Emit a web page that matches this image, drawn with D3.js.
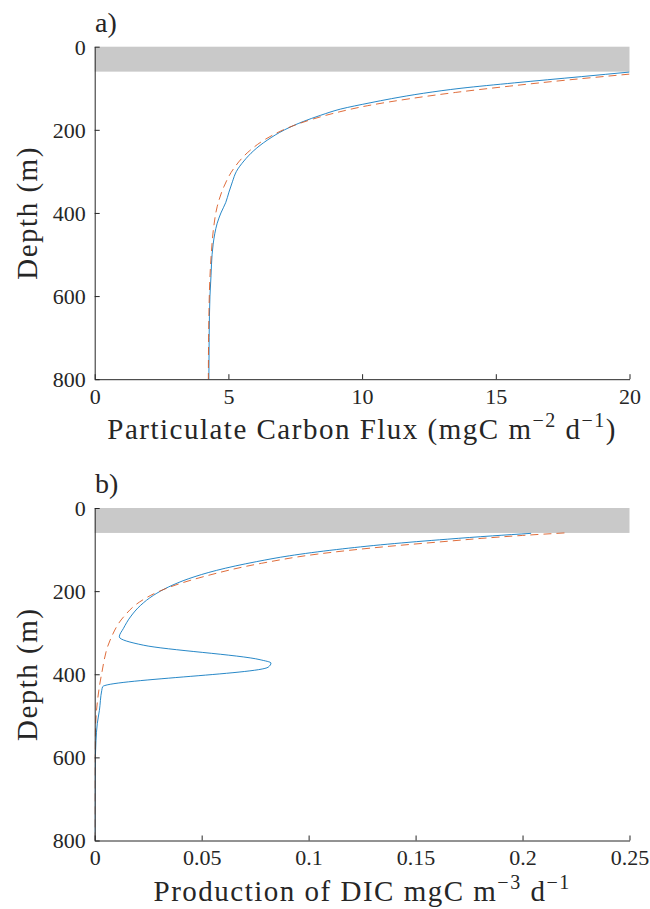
<!DOCTYPE html>
<html>
<head>
<meta charset="utf-8">
<script src="https://cdn.jsdelivr.net/npm/d3@7"></script>
<style>
  html, body { margin: 0; padding: 0; background: #ffffff; }
  svg { display: block; }
</style>
</head>
<body>
<script>
// Axis ticks
const depthTicks = [0, 200, 400, 600, 800];
const fluxTicks = [0, 5, 10, 15, 20];
const dicTicks = [0, 0.05, 0.1, 0.15, 0.2, 0.25];
const dicTickLabels = ["0", "0.05", "0.1", "0.15", "0.2", "0.25"];

// Shaded surface layer (m)
const surfaceLayer = [0, 60];

// a) particulate carbon flux, model (solid)
const fluxModelDepth = [61, 72, 87, 100, 112, 125, 135, 150, 165, 180, 200, 225, 250, 275, 300, 325, 350, 375, 400, 425, 450, 475, 500, 550, 600, 700, 800];
const fluxModel = [20.0, 18.2, 15.7, 13.7, 12.3, 11.1, 10.3, 9.2, 8.45, 7.8, 7.1, 6.45, 5.95, 5.58, 5.3, 5.15, 5.02, 4.9, 4.72, 4.58, 4.49, 4.43, 4.39, 4.35, 4.31, 4.28, 4.27];

// a) particulate carbon flux, fitted profile (dashed)
const fluxFitDepth = [66, 80, 95, 110, 125, 142, 160, 186, 222, 250, 293, 337, 385, 434, 498, 554, 650, 800];
const fluxFit = [20.0, 17.7, 15.5, 13.5, 11.8, 10.2, 8.95, 7.6, 6.4, 5.8, 5.2, 4.83, 4.58, 4.45, 4.36, 4.31, 4.27, 4.25];

// b) production of DIC, model (solid)
const dicModelDepth = [61, 67, 75, 87, 100, 115, 129, 150, 170, 190, 210, 234, 262, 290, 310, 330, 365, 373, 383, 430, 439, 487, 519, 560, 600, 700, 800];
const dicModel = [0.204, 0.186, 0.165, 0.137, 0.113, 0.091, 0.0757, 0.057, 0.044, 0.0345, 0.0275, 0.0215, 0.0167, 0.0134, 0.0115, 0.0227, 0.0773, 0.0824, 0.0811, 0.0037, 0.0033, 0.0022, 0.0012, 0.0006, 0.0003, 0.0001, 0.0];

// b) production of DIC, fitted profile (dashed)
const dicFitDepth = [60, 66, 73, 80, 92, 111, 133, 165, 185, 202, 226, 262, 318, 400, 479, 559, 650, 800];
const dicFit = [0.2196, 0.200, 0.181, 0.165, 0.138, 0.104, 0.078, 0.051, 0.038, 0.0295, 0.021, 0.0135, 0.0072, 0.0032, 0.0010, 0.0002, 0.00002, 0];

const W = 650, H = 909;
const FONT = "Liberation Serif";
const svg = d3.select("body").append("svg").attr("width", W).attr("height", H);

const AXIS = "#262626";
const BLUE = "#0072BD";
const ORANGE = "#D95319";

function panel(opts) {
  const x = d3.scaleLinear().domain(opts.xDomain).range([94.7, 629.5]);
  const y = d3.scaleLinear().domain([0, 800]).range([opts.top, opts.top + 332.5]);
  const g = svg.append("g");

  const clipId = "clip-" + opts.id;
  svg.append("defs").append("clipPath").attr("id", clipId)
    .append("rect").attr("x", x.range()[0]).attr("y", y.range()[0])
    .attr("width", x.range()[1] - x.range()[0]).attr("height", y.range()[1] - y.range()[0]);

  // surface layer shading
  g.append("rect")
    .attr("x", x(opts.xDomain[0])).attr("y", y(surfaceLayer[0]))
    .attr("width", x(opts.xDomain[1]) - x(opts.xDomain[0]))
    .attr("height", y(surfaceLayer[1]) - y(surfaceLayer[0]))
    .attr("fill", "#c9c9c9");

  const plot = g.append("g").attr("clip-path", `url(#${clipId})`);
  const line = d3.line().x(d => x(d[0])).y(d => y(d[1])).curve(d3.curveMonotoneY);

  plot.append("path")
    .datum(d3.zip(opts.model, opts.modelDepth))
    .attr("d", line).attr("fill", "none")
    .attr("stroke", BLUE).attr("stroke-width", 0.85);

  plot.append("path")
    .datum(d3.zip(opts.fit, opts.fitDepth))
    .attr("d", line).attr("fill", "none")
    .attr("stroke", ORANGE).attr("stroke-width", 0.85)
    .attr("stroke-dasharray", "8,5");

  // axes: inward ticks, no box
  const yAxis = d3.axisLeft(y).tickValues(depthTicks).tickSizeInner(-5).tickSizeOuter(0).tickPadding(9)
    .tickFormat(d3.format("d"));
  const ya = g.append("g").attr("transform", `translate(${x.range()[0]},0)`).call(yAxis);

  const xAxis = d3.axisBottom(x).tickValues(opts.xTicks).tickSizeInner(-5).tickSizeOuter(0).tickPadding(9)
    .tickFormat((d, i) => opts.xTickLabels[i]);
  const xa = g.append("g").attr("transform", `translate(0,${y.range()[1]})`).call(xAxis);

  [ya, xa].forEach(a => {
    a.attr("font-family", FONT).attr("font-size", 22);
    a.select(".domain").attr("stroke", AXIS).attr("stroke-width", 1);
    a.selectAll(".tick line").attr("stroke", AXIS).attr("stroke-width", 1);
    a.selectAll(".tick text").attr("fill", AXIS);
  });
  ya.selectAll(".tick text").attr("dy", "0.34em");
  xa.selectAll(".tick text").attr("dy", "0.72em");

  // y label
  g.append("text")
    .attr("transform", `translate(37,${(y.range()[0] + y.range()[1]) / 2}) rotate(-90)`)
    .attr("text-anchor", "middle").attr("font-family", FONT).attr("font-size", 29)
    .attr("letter-spacing", 1.5).attr("fill", AXIS)
    .text("Depth (m)");

  // x label with superscripts
  const xl = g.append("text")
    .attr("x", (x.range()[0] + x.range()[1]) / 2).attr("y", y.range()[1] + 60)
    .attr("text-anchor", "middle").attr("font-family", FONT).attr("font-size", 29)
    .attr("letter-spacing", 1.5).attr("fill", AXIS);
  opts.xLabel.forEach(part => {
    const t = xl.append("tspan").text(part.t);
    if (part.sup) t.attr("dy", -12).attr("font-size", 20);
    if (part.down) t.attr("dy", 12);
  });

  // panel letter
  g.append("text").attr("x", 95).attr("y", opts.top - 15)
    .attr("font-family", FONT).attr("font-size", 28).attr("fill", AXIS).text(opts.letter);
}

panel({
  id: "a", top: 46.7, letter: "a)",
  xDomain: [0, 20], xTicks: fluxTicks, xTickLabels: fluxTicks.map(String),
  model: fluxModel, modelDepth: fluxModelDepth, fit: fluxFit, fitDepth: fluxFitDepth,
  xLabel: [
    { t: "Particulate Carbon Flux (mgC m" },
    { t: "\u22122", sup: true },
    { t: " d", down: true },
    { t: "\u22121", sup: true },
    { t: ")", down: true }
  ]
});

panel({
  id: "b", top: 508, letter: "b)",
  xDomain: [0, 0.25], xTicks: dicTicks, xTickLabels: dicTickLabels,
  model: dicModel, modelDepth: dicModelDepth, fit: dicFit, fitDepth: dicFitDepth,
  xLabel: [
    { t: "Production of DIC mgC m" },
    { t: "\u22123", sup: true },
    { t: " d", down: true },
    { t: "\u22121", sup: true }
  ]
});
</script>
</body>
</html>
